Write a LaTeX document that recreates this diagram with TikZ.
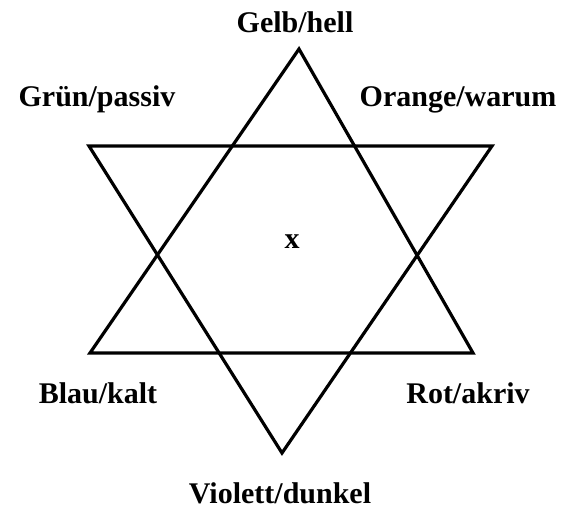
\documentclass[tikz,border=0pt]{standalone}
\usepackage{fontspec}
\setmainfont{Liberation Serif}
\begin{document}
\begin{tikzpicture}[x=1pt,y=-1pt,
  lbl/.style={anchor=base,inner sep=0pt,font=\fontsize{30}{32}\selectfont\bfseries},
  edge/.style={line width=3.2pt,line join=miter}]
\useasboundingbox (0,0) rectangle (570,513);
\coordinate (u1) at (299,49);
\coordinate (u2) at (90,353);
\coordinate (u3) at (473,353);
\coordinate (d1) at (89,146);
\coordinate (d2) at (492,146);
\coordinate (d3) at (282,453);
\draw[edge] (u1) -- (u2) -- (u3) -- cycle;
\draw[edge] (d1) -- (d2) -- (d3) -- cycle;
\node[lbl] (gelb) at (295,33) {Gelb/hell};
\node[lbl] (gruen) at (97,107) {Grün/passiv};
\node[lbl] (orange) at (458,107) {Orange/warum};
\node[lbl] (x) at (292,248) {x};
\node[lbl] (blau) at (98,403) {Blau/kalt};
\node[lbl] (rot) at (468,403) {Rot/akriv};
\node[lbl] (violett) at (280,503) {Violett/dunkel};
\end{tikzpicture}
\end{document}
